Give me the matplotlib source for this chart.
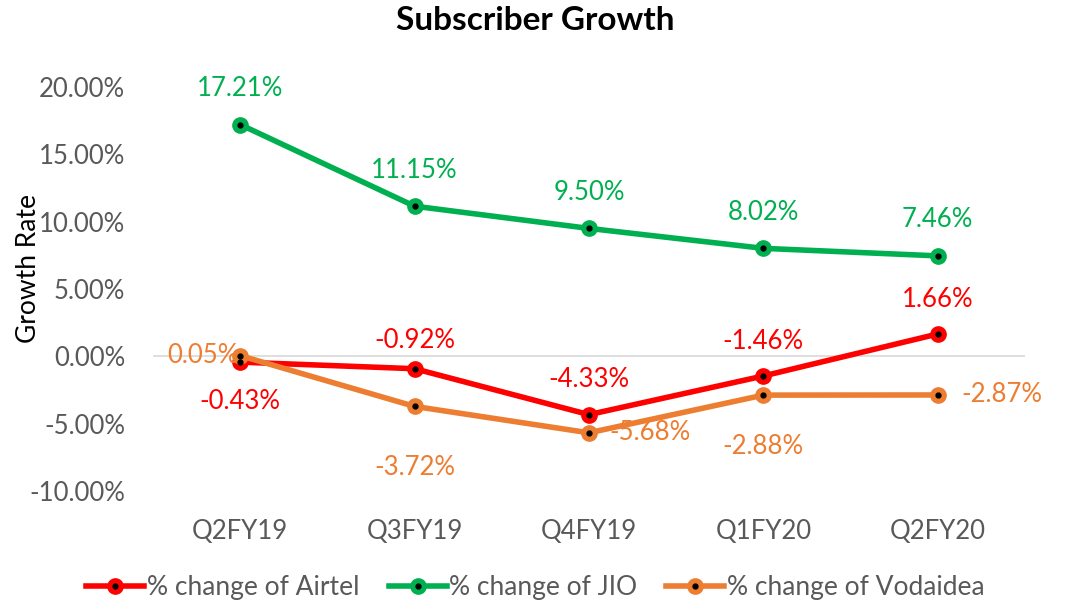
import numpy as np
import matplotlib
matplotlib.use("Agg")
import matplotlib.pyplot as plt
from matplotlib.ticker import FuncFormatter
from matplotlib.legend_handler import HandlerTuple

quarters = ["Q2FY19", "Q3FY19", "Q4FY19", "Q1FY20", "Q2FY20"]
airtel = [-0.43, -0.92, -4.33, -1.46, 1.66]
jio = [17.21, 11.15, 9.50, 8.02, 7.46]
vodaidea = [0.05, -3.72, -5.68, -2.88, -2.87]

# label placement per point: offsets in points (dx, dy)
airtel_pos = [(0, -28), (0, 20), (0, 25), (0, 25), (0, 25)]
jio_pos = [(0, 26), (0, 26), (0, 26), (0, 26), (0, 26)]
vod_pos = [(-27, 0), (0, -44), (44, 0), (0, -37), (46, 0)]

plt.rcParams["font.family"] = ["Lato", "DejaVu Sans"]

fig = plt.figure(figsize=(10.71, 6.09), dpi=100)
ax = fig.add_axes([0.1429, 0.1938, 0.8141, 0.6633])

x = np.arange(len(quarters))
series = [
    ("% change of Airtel", airtel, "#FF0000", airtel_pos),
    ("% change of JIO", jio, "#00B050", jio_pos),
    ("% change of Vodaidea", vodaidea, "#ED7D31", vod_pos),
]

ax.axhline(0, color="#D9D9D9", lw=1.2, zorder=1)

# draw orange above red at the first point like the original
for name, vals, col, pos in [series[0], series[2], series[1]]:
    ax.plot(x, vals, color=col, lw=4, marker="o", markersize=11,
            markerfacecolor=col, markeredgecolor=col, zorder=3,
            solid_capstyle="round")
    ax.plot(x, vals, ls="none", marker="o", markersize=3.5,
            color="black", zorder=4)
    for xi, v, (dx, dy) in zip(x, vals, pos):
        ax.annotate(f"{v:.2f}%", (xi, v), xytext=(dx, dy),
                    textcoords="offset points", ha="center", va="center",
                    color=col, fontsize=18.5)

# legend handles in original order
leg_handles = []
for name, vals, col, pos in series:
    l1 = plt.Line2D([], [], color=col, lw=4, marker="o", markersize=11,
                    markerfacecolor=col, markeredgecolor=col)
    l2 = plt.Line2D([], [], ls="none", marker="o", markersize=3.5, color="black")
    leg_handles.append((l1, l2))

fig.legend(leg_handles, [s[0] for s in series],
           handler_map={tuple: HandlerTuple(ndivide=1, pad=0)},
           loc="center", bbox_to_anchor=(0.5, 1 - 588 / 609), ncol=3,
           frameon=False, fontsize=19, handlelength=2.2, handletextpad=0.1,
           columnspacing=1.1, labelcolor="#595959")

ax.set_xlim(-0.5, len(quarters) - 0.5)
ax.set_ylim(-10, 20)
ax.set_yticks(np.arange(-10, 21, 5))
ax.yaxis.set_major_formatter(FuncFormatter(lambda v, p: f"{v:.2f}%"))
ax.set_xticks(x)
ax.set_xticklabels(quarters)
ax.tick_params(axis="both", length=0, labelsize=18.5, colors="#595959")
ax.tick_params(axis="x", pad=20)
ax.tick_params(axis="y", pad=20)
for sp in ax.spines.values():
    sp.set_visible(False)

ax.set_ylabel("Growth Rate", fontsize=19, color="black")
ax.yaxis.set_label_coords(-0.128, 0.55)

fig.suptitle("Subscriber Growth", fontsize=24, fontweight="bold", y=1 - 20 / 609,
             va="center")

plt.savefig("out.png", dpi=100, transparent=False)
